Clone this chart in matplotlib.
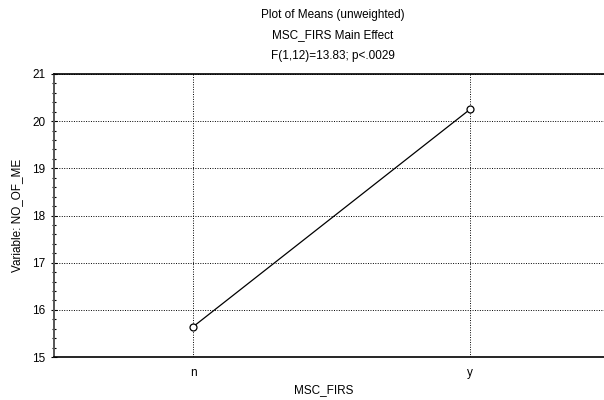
import matplotlib.pyplot as plt
from matplotlib.ticker import MultipleLocator

# data
categories = ["n", "y"]
means = [15.64, 20.25]
title_lines = ["Plot of Means (unweighted)", "MSC_FIRS Main Effect", "F(1,12)=13.83; p<.0029"]

plt.rcParams['font.family'] = ['Liberation Sans', 'DejaVu Sans']

fig = plt.figure(figsize=(6.04, 4.0), dpi=100)
ax = fig.add_axes([0.0894, 0.1075, 0.9106, 0.7075])

xs = list(range(len(categories)))
ax.plot(xs, means, color='black', lw=0.9, marker='o', ms=5,
        mfc='white', mec='black', mew=0.9, zorder=3)

ax.set_xlim(-0.502, 1.484)
ax.set_ylim(15, 21)
ax.set_xticks(xs)
ax.set_xticklabels(categories)
ax.yaxis.set_major_locator(MultipleLocator(1))
ax.yaxis.set_minor_locator(MultipleLocator(0.2))

# dotted grid like the original
ax.grid(True, which='major', color='black', linestyle=(0, (1, 1.5)), lw=0.7)

ax.tick_params(axis='x', length=0, labelsize=8.5, pad=7)
ax.tick_params(axis='y', which='major', direction='inout', length=4, width=0.8, labelsize=8.5, pad=4)
ax.tick_params(axis='y', which='minor', direction='inout', length=3, width=0.8)

ax.spines['right'].set_visible(False)
ax.spines['left'].set_color('#555555')
ax.spines['left'].set_linewidth(1.4)
ax.spines['top'].set_linewidth(1.2)
ax.spines['bottom'].set_linewidth(1.2)

ax.set_xlabel("MSC_FIRS", fontsize=8.5)
ax.set_ylabel("Variable: NO_OF_ME", fontsize=8.5, labelpad=7)
ax.xaxis.set_label_coords(0.49, -0.095)

for i, line in enumerate(title_lines):
    fig.text(0.551, 1 - (15 + 20.5 * i) / 400, line, ha='center', va='center', fontsize=8.5)

fig.savefig("out.png", dpi=100)
